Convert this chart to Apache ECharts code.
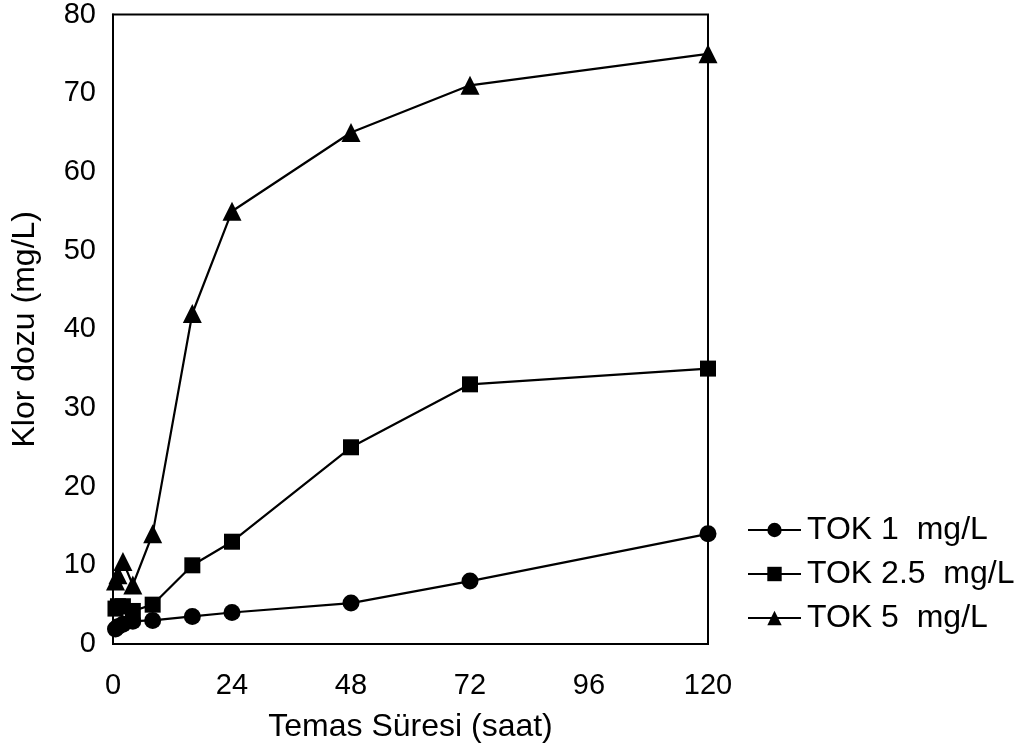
<!DOCTYPE html>
<html>
<head>
<meta charset="utf-8">
<script src="https://cdn.jsdelivr.net/npm/echarts@6/dist/echarts.min.js"></script>
<style>
  html, body { margin: 0; padding: 0; background: #fff; }
  #chart { width: 1024px; height: 751px; }
</style>
</head>
<body>
<div id="chart"></div>
<script>
// Contact time (hours)
const hours = [0.5, 1, 2, 4, 8, 16, 24, 48, 72, 120];

// Chlorine dose (mg/L) per TOC level
const tok1 = [1.9, 2.2, 2.5, 2.9, 3.0, 3.5, 4.0, 5.2, 8.0, 14.0];
const tok25 = [4.5, 4.8, 4.8, 4.2, 5.0, 10.0, 13.0, 25.0, 33.0, 35.0];
const tok5 = [8.0, 8.8, 10.5, 7.5, 14.0, 42.0, 55.0, 65.0, 71.0, 75.0];

const seriesNames = ['TOK 1  mg/L', 'TOK 2.5  mg/L', 'TOK 5  mg/L'];
const xTicks = { min: 0, max: 120, step: 24 };
const yTicks = { min: 0, max: 80, step: 10 };

const FONT = 'Liberation Sans, Arial, sans-serif';
const TICK_FS = 29;
const TITLE_FS = 32;

function pairs(ys) {
  return hours.map((h, i) => [h, ys[i]]);
}

function lineSeries(name, values, symbol, size) {
  return {
    name: name,
    type: 'line',
    data: pairs(values),
    symbol: symbol,
    symbolSize: size,
    showSymbol: true,
    lineStyle: { color: '#000', width: 2.2 },
    itemStyle: { color: '#000' },
    emphasis: { disabled: true },
    animation: false
  };
}

const chart = echarts.init(document.getElementById('chart'), null, { renderer: 'canvas' });

chart.setOption({
  backgroundColor: '#fff',
  animation: false,
  textStyle: { fontFamily: FONT, color: '#000' },
  grid: {
    left: 113, right: 316, top: 14, bottom: 107,
    show: true, borderColor: '#000', borderWidth: 2,
    containLabel: false
  },
  legend: {
    orient: 'vertical',
    left: 747, top: 514, padding: 0,
    itemWidth: 53, itemHeight: 18, itemGap: 12,
    textStyle: { fontFamily: FONT, fontSize: TITLE_FS, color: '#000', padding: [0, 0, 0, 1] },
    data: seriesNames
  },
  xAxis: {
    type: 'value',
    min: xTicks.min, max: xTicks.max, interval: xTicks.step,
    name: 'Temas Süresi (saat)',
    nameLocation: 'middle', nameGap: 67,
    nameTextStyle: { fontFamily: FONT, fontSize: TITLE_FS, color: '#000' },
    axisLine: { show: true, lineStyle: { color: '#000', width: 2 } },
    axisTick: { show: false },
    splitLine: { show: false },
    axisLabel: { fontFamily: FONT, fontSize: TICK_FS, color: '#000', margin: 27 }
  },
  yAxis: {
    type: 'value',
    min: yTicks.min, max: yTicks.max, interval: yTicks.step,
    name: 'Klor dozu (mg/L)',
    nameLocation: 'middle', nameGap: 72,
    nameTextStyle: { fontFamily: FONT, fontSize: TITLE_FS, color: '#000' },
    axisLine: { show: true, lineStyle: { color: '#000', width: 2 } },
    axisTick: { show: false },
    splitLine: { show: false },
    axisLabel: { fontFamily: FONT, fontSize: TICK_FS, color: '#000', margin: 17 }
  },
  series: [
    lineSeries(seriesNames[0], tok1, 'circle', 17),
    lineSeries(seriesNames[1], tok25, 'rect', 16),
    lineSeries(seriesNames[2], tok5, 'triangle', 19)
  ]
});
</script>
</body>
</html>
